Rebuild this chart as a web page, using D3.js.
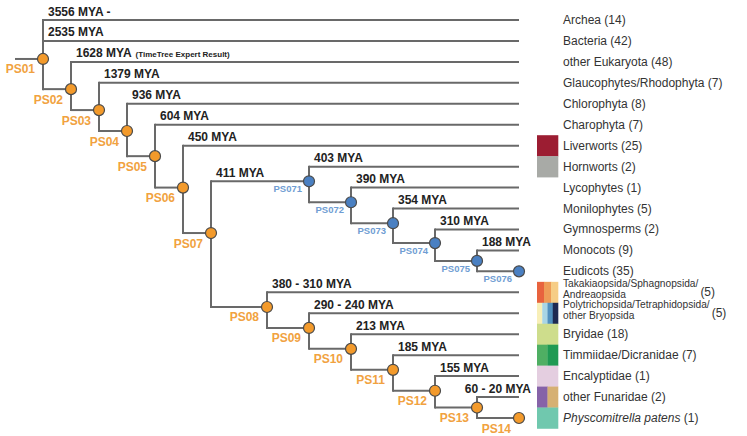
<!DOCTYPE html>
<html>
<head>
<meta charset="utf-8">
<script src="https://cdn.jsdelivr.net/npm/d3@7"></script>
<style>
  body { margin: 0; background: #fff; }
  svg { display: block; font-family: "Liberation Sans", Arial, Helvetica, sans-serif; }
</style>
</head>
<body>
<div id="chart"></div>
<script>
// leaves, top to bottom ("|" splits a two-line name)
const leafNames = ["Archea", "Bacteria", "other Eukaryota", "Glaucophytes/Rhodophyta", "Chlorophyta",
  "Charophyta", "Liverworts", "Hornworts", "Lycophytes", "Monilophytes", "Gymnosperms", "Monocots",
  "Eudicots", "Takakiaopsida/Sphagnopsida/|Andreaopsida", "Polytrichopsida/Tetraphidopsida/|other Bryopsida",
  "Bryidae", "Timmiidae/Dicranidae", "Encalyptidae", "other Funaridae", "Physcomitrella patens"];
const leafCounts = [14, 42, 48, 7, 8, 7, 25, 2, 1, 5, 2, 9, 35, 5, 5, 18, 7, 1, 2, 1];
const leafParents = ["PS01", "PS01", "PS02", "PS03", "PS04", "PS05", "PS06", "PS071", "PS072", "PS073",
  "PS074", "PS075", "PS076", "PS08", "PS09", "PS10", "PS11", "PS12", "PS13", "PS14"];
const leafMya = ["3556 MYA -", "2535 MYA", "1628 MYA", "1379 MYA", "936 MYA", "604 MYA", "450 MYA",
  "403 MYA", "390 MYA", "354 MYA", "310 MYA", "188 MYA", "", "380 - 310 MYA", "290 - 240 MYA",
  "213 MYA", "185 MYA", "155 MYA", "60 - 20 MYA", ""];
const leafSwatches = [[], [], [], [], [], [], ["#9c1d32"], ["#a8aaa6"], [], [], [], [], [],
  ["#e8633e", "#ee9c57", "#f6cd86"], ["#f8efb8", "#a8d5e5", "#5190be", "#1e2a52"], ["#cedd8c"],
  ["#4faf63", "#1f9a53"], ["#e4cee0"], ["#8663a8", "#d6b073"], ["#70c8ae"]];

// internal nodes: column (tree depth units) and row (leaf units)
const nodeIds = ["PS01", "PS02", "PS03", "PS04", "PS05", "PS06", "PS07", "PS071", "PS072", "PS073",
  "PS074", "PS075", "PS076", "PS08", "PS09", "PS10", "PS11", "PS12", "PS13", "PS14"];
const nodeParents = [null, "PS01", "PS02", "PS03", "PS04", "PS05", "PS06", "PS07", "PS071", "PS072",
  "PS073", "PS074", "PS075", "PS07", "PS08", "PS09", "PS10", "PS11", "PS12", "PS13"];
const nodeCols = [0, 2, 4, 6, 8, 10, 12, 19, 22, 25, 28, 31, 34, 16, 19, 22, 25, 28, 31, 34];
const nodeRows = [1.86, 3.3, 4.3, 5.3, 6.5, 8.0, 10.17, 7.7, 8.7, 9.7, 10.65, 11.5, 12,
  13.7, 14.7, 15.7, 16.7, 17.7, 18.5, 19];
const nodeBlue = ["PS071", "PS072", "PS073", "PS074", "PS075", "PS076"];
const nodeMya = { "PS071": "411 MYA" };
const rootCol = -2;
const tipCol = 34;

const width = 747, height = 436;
const x = d3.scaleLinear().domain([0, 34]).range([43, 519]);
const y = d3.scaleLinear().domain([0, 19]).range([20, 418]);

const lineColor = "#696969";
const orange = "#f39a2b", orangeText = "#f1a240";
const blue = "#4a80c2", blueText = "#6f9dd3";

const svg = d3.select("#chart").append("svg")
  .attr("width", width)
  .attr("height", height);

const nodes = nodeIds.map((id, i) => ({
  id, parent: nodeParents[i], col: nodeCols[i], row: nodeRows[i],
  blue: nodeBlue.includes(id), mya: nodeMya[id] || ""
}));
const byId = new Map(nodes.map(d => [d.id, d]));
const leaves = leafNames.map((name, i) => ({
  name, count: leafCounts[i], parent: leafParents[i], col: tipCol, row: i,
  mya: leafMya[i], swatch: leafSwatches[i]
}));

// children rows of each node -> vertical extent
const children = new Map(nodes.map(d => [d.id, []]));
nodes.forEach(d => { if (d.parent) children.get(d.parent).push(d); });
leaves.forEach(d => children.get(d.parent).push(d));

const gLines = svg.append("g")
  .attr("stroke", lineColor)
  .attr("stroke-width", 2)
  .attr("fill", "none");

// root stub
const root = nodes[0];
gLines.append("line")
  .attr("x1", x(rootCol)).attr("x2", x(root.col))
  .attr("y1", y(root.row)).attr("y2", y(root.row));

// verticals
nodes.forEach(n => {
  const rows = children.get(n.id).map(c => c.row);
  if (!rows.length) return;
  gLines.append("line")
    .attr("x1", x(n.col)).attr("x2", x(n.col))
    .attr("y1", y(d3.min(rows))).attr("y2", y(d3.max(rows)))
    .attr("stroke-linecap", "square");
});

// horizontals
const edges = nodes.filter(d => d.parent).concat(leaves);
gLines.selectAll("line.h")
  .data(edges)
  .join("line")
  .attr("class", "h")
  .attr("x1", d => x(byId.get(d.parent).col))
  .attr("x2", d => x(d.col))
  .attr("y1", d => y(d.row))
  .attr("y2", d => y(d.row));

// MYA labels on edges
const gMya = svg.append("g")
  .attr("font-size", 12)
  .attr("font-weight", "bold")
  .attr("fill", "#222");
edges.filter(d => d.mya).forEach(d => {
  const t = gMya.append("text")
    .attr("y", y(d.row) - 4.5)
    .text(d.mya);
  if (d.name === "other Eukaryota") {
    t.append("tspan")
      .attr("dx", 4)
      .attr("font-size", 8)
      .text("(TimeTree Expert Result)");
  }
  const w = t.node().getComputedTextLength();
  const px = Math.min(x(byId.get(d.parent).col) + 5, x(tipCol) + 12 - w);
  t.attr("x", px);
});

// nodes
svg.append("g")
  .selectAll("circle")
  .data(nodes)
  .join("circle")
  .attr("cx", d => x(d.col))
  .attr("cy", d => y(d.row))
  .attr("r", 5.5)
  .attr("fill", d => d.blue ? blue : orange)
  .attr("stroke", "#4a4a4a")
  .attr("stroke-width", 1.2);

svg.append("g")
  .attr("font-weight", "bold")
  .attr("text-anchor", "end")
  .selectAll("text")
  .data(nodes)
  .join("text")
  .attr("x", d => x(d.col) - (d.blue ? 7 : 8))
  .attr("y", d => y(d.row) + (d.blue ? 11 : 14.5))
  .attr("font-size", d => d.blue ? 9.5 : 12)
  .attr("fill", d => d.blue ? blueText : orangeText)
  .text(d => d.id);

// colour swatches
const swX = 537, swW = 21;
const rowH = y(1) - y(0);
leaves.forEach(d => {
  const n = d.swatch.length;
  d.swatch.forEach((c, k) => {
    svg.append("rect")
      .attr("x", swX + k * swW / n)
      .attr("y", y(d.row) - rowH / 2)
      .attr("width", swW / n + 0.3)
      .attr("height", rowH + 0.3)
      .attr("fill", c);
  });
});

// leaf labels
const gLeaf = svg.append("g").attr("fill", "#333");
leaves.forEach(d => {
  const ly = y(d.row);
  const parts = d.name.split("|");
  if (parts.length === 1) {
    const t = gLeaf.append("text")
      .attr("x", 563)
      .attr("y", ly + 4)
      .attr("font-size", 12);
    t.append("tspan")
      .attr("font-style", d.name === "Physcomitrella patens" ? "italic" : null)
      .text(d.name);
    t.append("tspan").text(" (" + d.count + ")");
  } else {
    // each line its own text so the two lines can sit tight
    const lines = parts.map((p, k) => gLeaf.append("text")
      .attr("x", 563)
      .attr("y", ly - 5.7 + k * 11.4)
      .attr("font-size", 10.2)
      .text(p));
    const w = d3.max(lines, s => s.node().getComputedTextLength());
    gLeaf.append("text")
      .attr("x", 563 + w + 2)
      .attr("y", ly + 4)
      .attr("font-size", 12)
      .text("(" + d.count + ")");
  }
});
</script>
</body>
</html>
